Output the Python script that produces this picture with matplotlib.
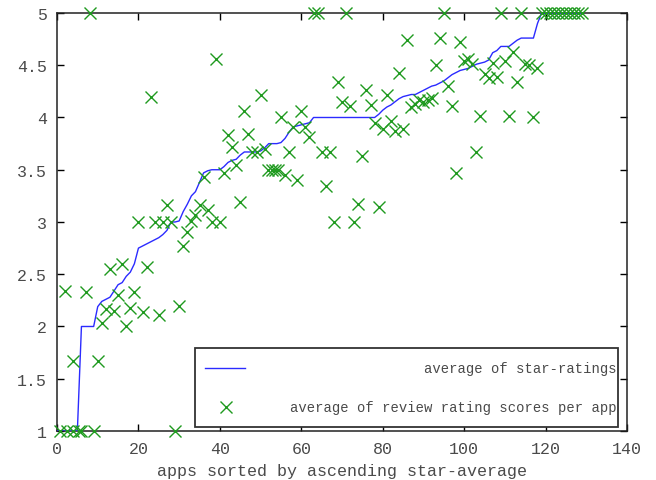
import matplotlib
matplotlib.use("Agg")
import matplotlib.pyplot as plt
from matplotlib.patches import Rectangle
from matplotlib.lines import Line2D

# star-average per app (sorted ascending), index = app position
star_x = list(range(0, 130))
star_avg = [1.0, 1.0, 1.0, 1.0, 1.0, 1.0,
            2.0, 2.0, 2.0, 2.0,
            2.19, 2.24, 2.26, 2.28, 2.34, 2.4, 2.42, 2.48, 2.52, 2.6,
            2.75, 2.77, 2.79, 2.81, 2.83, 2.85, 2.88, 2.92, 3.0, 3.0,
            3.01, 3.1, 3.17, 3.25, 3.29, 3.38, 3.47, 3.49, 3.5, 3.5,
            3.5, 3.53, 3.57, 3.59, 3.6, 3.64, 3.67, 3.67, 3.67, 3.67,
            3.68, 3.71, 3.75, 3.75, 3.75, 3.76, 3.8, 3.86, 3.91, 3.92,
            3.93, 3.94, 3.95, 4.0, 4.0, 4.0, 4.0, 4.0, 4.0, 4.0,
            4.0, 4.0, 4.0, 4.0, 4.0, 4.0, 4.0, 4.0, 4.0, 4.03,
            4.07, 4.1, 4.12, 4.15, 4.18, 4.2, 4.21, 4.22, 4.22, 4.24,
            4.26, 4.28, 4.3, 4.31, 4.33, 4.35, 4.38, 4.41, 4.43, 4.45,
            4.46, 4.47, 4.49, 4.51, 4.52, 4.53, 4.55, 4.62, 4.64, 4.68,
            4.68, 4.68, 4.71, 4.74, 4.76, 4.76, 4.76, 4.76, 4.9, 5.0,
            5.0, 5.0, 5.0, 5.0, 5.0, 5.0, 5.0, 5.0, 5.0, 5.0]

# average review rating score per app
review_x = [0.7, 2.4, 4, 5.5, 6, 9, 29,
            4, 10, 11, 17,
            12, 14, 18, 21, 25, 30,
            2, 7, 15, 19,
            13, 16, 22, 31, 32,
            20, 24, 26, 28, 33, 38, 40,
            34, 37, 35, 27, 45, 36, 41, 44, 43, 42, 47, 46, 23, 39, 8,
            48, 49, 57, 65, 67, 51, 51.9, 52.7, 53.5, 54.3, 56, 59, 55, 50, 60,
            58, 61, 62, 63, 64, 71,
            69, 76, 81, 70, 72, 77, 78, 80, 82, 83, 85, 75, 66, 74, 79, 68, 73,
            86, 94, 93, 84, 87, 88, 89, 90, 91, 92, 96,
            95, 109, 114, 99, 100, 101, 102, 107, 110, 112, 115, 116, 118,
            105, 106, 108, 113, 97, 104, 111, 117, 103, 98,
            119, 120, 121, 122, 123, 124, 125, 126, 127, 128, 129]
review_avg = [1.0, 1.0, 1.0, 1.0, 1.0, 1.0, 1.0,
              1.67, 1.67, 2.03, 2.0,
              2.17, 2.15, 2.18, 2.14, 2.11, 2.2,
              2.34, 2.33, 2.3, 2.33,
              2.55, 2.6, 2.57, 2.77, 2.9,
              3.0, 3.0, 3.0, 3.0, 3.01, 3.0, 3.0,
              3.07, 3.11, 3.16, 3.16, 3.19, 3.43, 3.47, 3.55, 3.72, 3.83, 3.84, 4.06, 4.2, 4.56, 5.0,
              3.67, 3.67, 3.67, 3.67, 3.67, 3.7, 3.5, 3.5, 3.5, 3.5, 3.45, 3.4, 4.0, 4.22, 4.06,
              3.91, 3.91, 3.81, 5.0, 5.0, 5.0,
              4.34, 4.26, 4.22, 4.15, 4.11, 4.12, 3.95, 3.89, 3.97, 3.87, 3.89, 3.63, 3.34, 3.17, 3.14, 3.0, 3.0,
              4.74, 4.76, 4.5, 4.43, 4.1, 4.13, 4.17, 4.15, 4.17, 4.19, 4.3,
              5.0, 5.0, 5.0, 4.72, 4.54, 4.56, 4.51, 4.52, 4.54, 4.63, 4.51, 4.5, 4.47,
              4.42, 4.38, 4.39, 4.34, 4.11, 4.01, 4.01, 4.0, 3.67, 3.47,
              5.0, 5.0, 5.0, 5.0, 5.0, 5.0, 5.0, 5.0, 5.0, 5.0, 5.0]

x_ticks = [0, 20, 40, 60, 80, 100, 120, 140]
y_ticks = [1, 1.5, 2, 2.5, 3, 3.5, 4, 4.5, 5]
y_labels = ["1", "1.5", "2", "2.5", "3", "3.5", "4", "4.5", "5"]

LINE_COLOR = "#2b2bff"
MARK_COLOR = "#1f9a1f"
TEXT_COLOR = "#4a4a4a"

plt.rcParams["font.family"] = ["Liberation Mono", "DejaVu Sans Mono"]

fig = plt.figure(figsize=(6.56, 4.81), dpi=100)
ax = fig.add_axes([0.0869, 0.1019, 0.869, 0.869])

ax.plot(star_x, star_avg, color=LINE_COLOR, lw=1.0, zorder=3)
ax.plot(review_x, review_avg, linestyle="none", marker="x", ms=8.5,
        mew=1.0, color=MARK_COLOR, clip_on=False, zorder=4)

ax.set_xlim(0, 140)
ax.set_ylim(1, 5)
ax.set_xticks(x_ticks)
ax.set_yticks(y_ticks)
ax.set_yticklabels(y_labels)
ax.tick_params(direction="in", length=5, width=1, top=True, right=True,
               labelsize=12, labelcolor=TEXT_COLOR, pad=7)
for s in ax.spines.values():
    s.set_linewidth(1.1)
    s.set_color("#222222")

ax.set_xlabel("apps sorted by ascending star-average", fontsize=12,
              color=TEXT_COLOR, labelpad=5)

# gnuplot-style key, drawn by hand (sample left, text right-justified)
ax.add_patch(Rectangle((0.242, 0.0096), 0.742, 0.189, transform=ax.transAxes,
                       fill=True, facecolor="white", edgecolor="#333333",
                       lw=1.3, zorder=5))
ax.add_line(Line2D([0.26, 0.33], [0.151, 0.151], transform=ax.transAxes,
                   color=LINE_COLOR, lw=1.0, zorder=6))
ax.add_line(Line2D([0.296], [0.057], transform=ax.transAxes, marker="x",
                   ms=8.5, mew=1.0, color=MARK_COLOR, zorder=6))
ax.text(0.981, 0.151, "average of star-ratings", transform=ax.transAxes,
        ha="right", va="center", fontsize=10, color=TEXT_COLOR, zorder=6)
ax.text(0.981, 0.057, "average of review rating scores per app",
        transform=ax.transAxes, ha="right", va="center", fontsize=10,
        color=TEXT_COLOR, zorder=6)

fig.savefig("out.png", dpi=100)
